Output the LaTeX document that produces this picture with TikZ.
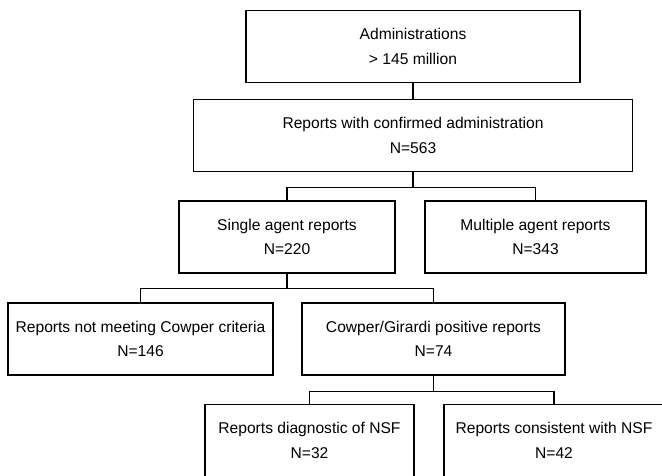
\documentclass[tikz,border=0pt]{standalone}
\usepackage{fontspec}
\setmainfont{Liberation Sans}
\usetikzlibrary{calc}
\tikzset{
  flow/.style={draw=black, line width=1.1pt, rectangle, align=center,
               minimum height=72pt, inner sep=2pt,
               font=\fontsize{15.6}{24.5}\selectfont},
  link/.style={draw=black, line width=1.1pt}
}
\newcommand{\flowbox}[4]{%
  \node[flow, minimum width=#3] (#1) at #2 {#4};
}

\begin{document}
\begin{tikzpicture}[x=1pt, y=-1pt]
        \useasboundingbox (0,0) rectangle (662,475);
        \flowbox{adm}{(413,46.5)}{334pt}{Administrations\\> 145 million}
        \flowbox{conf}{(413,135.5)}{439pt}{Reports with confirmed administration\\N=563}
        \flowbox{single}{(287,237)}{216pt}{Single agent reports\\N=220}
        \flowbox{multi}{(535.5,237)}{221pt}{Multiple agent reports\\N=343}
        \flowbox{notmeet}{(140.5,339)}{265pt}{Reports not meeting Cowper criteria\\N=146}
        \flowbox{pos}{(433.5,339)}{263pt}{Cowper/Girardi positive reports\\N=74}
        \flowbox{diag}{(309.5,440.5)}{209pt}{Reports diagnostic of NSF\\N=32}
        \flowbox{cons}{(554,440.5)}{220pt}{Reports consistent with NSF\\N=42}
        % branch points
        \coordinate (j1) at ($(conf.south)+(0,15)$);
        \coordinate (j2) at ($(single.south)+(0,15)$);
        \coordinate (j3) at ($(pos.south)+(0,16)$);
        \draw[link] (adm.south) -- (conf.north);
        \draw[link] (conf.south) -- (j1);
        \draw[link] (single.north) |- (j1) -| (multi.north);
        \draw[link] (single.south) -- (j2);
        \draw[link] (notmeet.north) |- (j2) -| (pos.north);
        \draw[link] (pos.south) -- (j3);
        \draw[link] (diag.north) |- (j3) -| (cons.north);
      \end{tikzpicture}
\end{document}
